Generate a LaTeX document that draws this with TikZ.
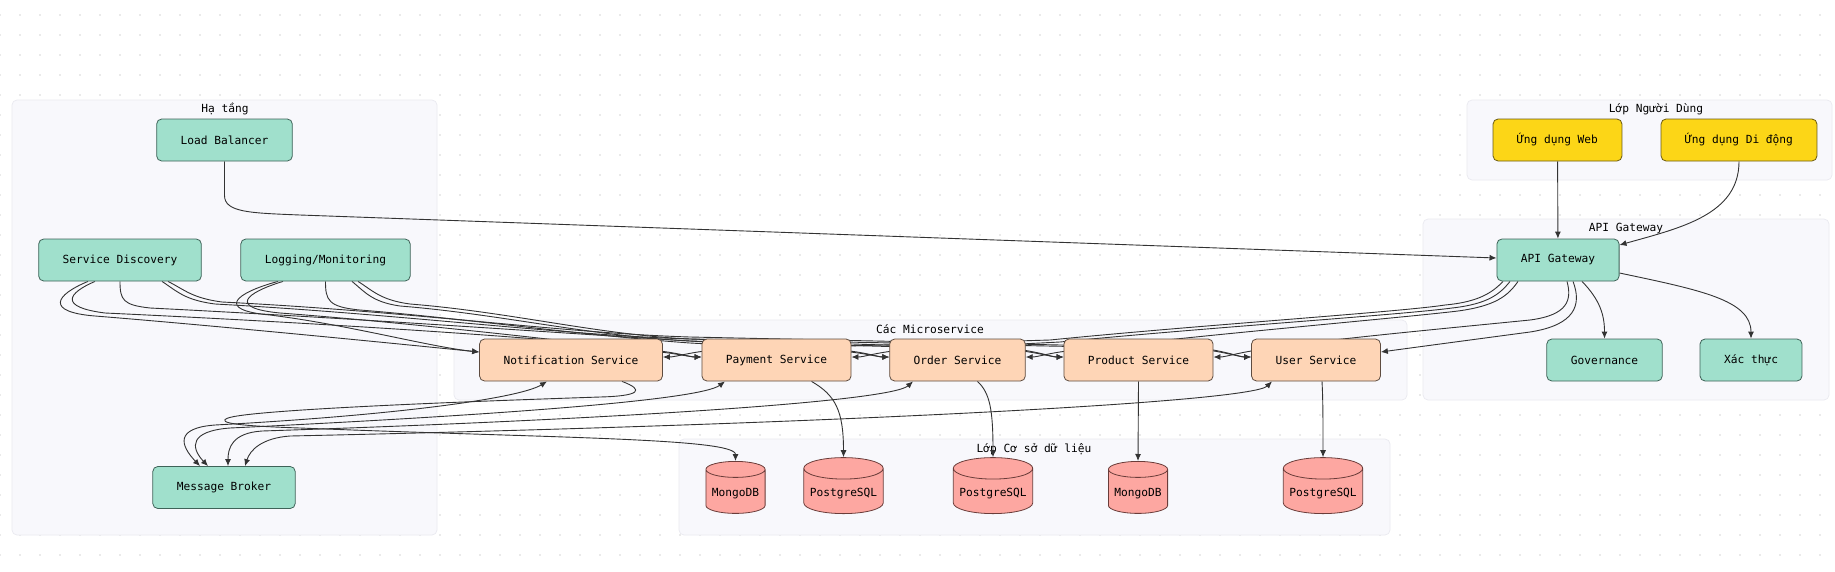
\documentclass[tikz,border=0pt]{standalone}
\usepackage{fontspec}
\setmonofont{DejaVu Sans Mono}
\newfontfamily\vnsans{DejaVu Sans}
\usepackage{tikz}
\usetikzlibrary{arrows.meta,backgrounds,shapes.geometric}
\pgfdeclarelayer{edges}
\pgfsetlayers{background,edges,main}

\definecolor{tealfill}{HTML}{A0E0CC}
\definecolor{tealline}{HTML}{3E6358}
\definecolor{peachfill}{HTML}{FED5B6}
\definecolor{peachline}{HTML}{5E4C40}
\definecolor{yellowfill}{HTML}{FCD617}
\definecolor{yellowline}{HTML}{6B5A12}
\definecolor{pinkfill}{HTML}{FDA7A1}
\definecolor{pinkline}{HTML}{6A3C39}
\definecolor{clusterfill}{HTML}{F8F8FC}
\definecolor{clusterline}{HTML}{EAEAF0}
\definecolor{edgecol}{HTML}{333333}
\definecolor{dotcol}{HTML}{D6D6D6}

\begin{document}
\begin{tikzpicture}[x=1pt,y=1pt,
  nodebase/.style={rounded corners=5pt, line width=0.8pt, minimum height=42pt,
    inner xsep=24pt, font=\ttfamily\fontsize{11.2}{13}\selectfont, text=black},
  infra/.style={nodebase, fill=tealfill, draw=tealline},
  svc/.style={nodebase, fill=peachfill, draw=peachline},
  client/.style={nodebase, fill=yellowfill, draw=yellowline},
  db/.style={cylinder, shape border rotate=90, aspect=0.27, draw=pinkline,
    fill=pinkfill, line width=0.8pt, inner xsep=6pt, minimum height=52pt,
    font=\ttfamily\fontsize{11.2}{13}\selectfont},
  clusterbox/.style={fill=clusterfill, draw=clusterline, line width=0.7pt, rounded corners=5pt},
  clustertitle/.style={font=\ttfamily\fontsize{11.2}{13}\selectfont, text=black},
  link/.style={draw=edgecol, line width=0.9pt, -{Latex[length=7pt,width=6pt]}},
  twoway/.style={link, {Latex[length=7pt,width=6pt]}-{Latex[length=7pt,width=6pt]}}]

\useasboundingbox (0,0) rectangle (1835,-571);

% background, dots and groups
\begin{scope}[on background layer]
  \fill[white] (0,0) rectangle (1835,-571);
  \foreach \i in {0,...,91} {
    \foreach \j in {0,...,27} {
      \fill[dotcol] (20*\i,-15-20*\j) circle (0.9);
    }
  }
  \draw[clusterbox] (12,-100) rectangle (437,-535);
  \draw[clusterbox] (454,-320) rectangle (1407,-400);
  \draw[clusterbox] (679,-439) rectangle (1390,-535);
  \draw[clusterbox] (1467,-100) rectangle (1832,-180);
  \draw[clusterbox] (1423,-219) rectangle (1829,-400);
  \draw (225,-109) node[clustertitle] (hatang) {Hạ t{\vnsans ầ}ng};
  \draw (930,-329) node[clustertitle] (micro) {Các Microservice};
  \draw (1034,-449) node[clustertitle] (csdl) {Lớp Cơ s{\vnsans ở} dữ liệu};
  \draw (1656,-109) node[clustertitle] (nguoidung) {Lớp Người Dùng};
  \draw (1626,-229) node[clustertitle] (apigroup) {API Gateway};
\end{scope}

% nodes
\draw (224.5,-140) node[infra] (loadbal) {Load Balancer};
\draw (120,-260) node[infra] (discovery) {Service Discovery};
\draw (325.5,-260) node[infra] (logging) {Logging/Monitoring};
\draw (224,-487.5) node[infra] (broker) {Message Broker};

\draw (571,-360) node[svc] (notif) {Notification Service};
\draw (776.5,-360) node[svc] (payment) {Payment Service};
\draw (957.5,-360) node[svc] (order) {Order Service};
\draw (1138.5,-360) node[svc] (product) {Product Service};
\draw (1316,-360) node[svc] (user) {User Service};

\draw (1557.5,-140) node[client] (webapp) {Ứng dụng Web};
\draw (1739,-140) node[client] (mobileapp) {Ứng dụng Di động};
\draw (1558,-260) node[infra] (gateway) {API Gateway};
\draw (1604.5,-360) node[infra] (governance) {Governance};
\draw (1751,-360) node[infra] (auth) {Xác thực};

\draw (735.5,-494) node[db] (mongoA) {MongoDB};
\draw (843.5,-494) node[db, minimum height=56pt] (pgA) {PostgreSQL};
\draw (993,-494) node[db, minimum height=56pt] (pgB) {PostgreSQL};
\draw (1138,-494) node[db] (mongoB) {MongoDB};
\draw (1323,-494) node[db, minimum height=56pt] (pgC) {PostgreSQL};

\begin{pgfonlayer}{edges}
% clients and load balancer
\draw[link] (webapp) -- (gateway);
\draw[link] (mobileapp.south) .. controls (1739,-215) and (1680,-228) .. ([yshift=15pt]gateway.east);
\draw[link] (loadbal.south) -- ++(0,-34) .. controls +(0,-17) and +(-50,2) .. (300,-215)
  -- ([yshift=2pt]gateway.west);
\draw[link] ([xshift=24pt]gateway.south) .. controls (1600,-300) and (1604.5,-315) .. (governance.north);
\draw[link] ([yshift=-13pt]gateway.east) .. controls (1700,-290) and (1751,-300) .. (auth.north);

% gateway to services
\draw[link] ([xshift=-55pt]gateway.south) .. controls (1492,-293) and (1478,-302) .. (1445,-305)
  .. controls (1400,-312) and (1200,-325) .. (1050,-340) -- (715,-350)
  .. controls (690,-352) and (676,-357) .. ([yshift=3pt]notif.east);
\draw[link] ([xshift=-48pt]gateway.south) .. controls (1500,-294) and (1488,-304) .. (1452,-308)
  .. controls (1400,-315) and (1200,-328) .. (1060,-342) -- (903,-350)
  .. controls (878,-352) and (864,-357) .. ([yshift=3pt]payment.east);
\draw[link] ([xshift=-40pt]gateway.south) .. controls (1508,-296) and (1495,-306) .. (1458,-311)
  .. controls (1400,-318) and (1200,-335) .. (1077,-350)
  .. controls (1052,-352) and (1038,-357) .. ([yshift=3pt]order.east);
\draw[link] ([xshift=9pt]gateway.south) .. controls (1572,-300) and (1568,-315) .. (1530,-320)
  .. controls (1450,-328) and (1320,-340) .. (1265,-349)
  .. controls (1240,-352) and (1226,-357) .. ([yshift=3pt]product.east);
\draw[link] ([xshift=15pt]gateway.south) .. controls (1582,-305) and (1575,-325) .. (1530,-332)
  .. controls (1470,-340) and (1410,-348) .. ([yshift=8pt]user.east);

% service discovery to services
\draw[link] ([xshift=-32pt]discovery.south) .. controls (55,-295) and (45,-312) .. (95,-316)
  .. controls (220,-326) and (420,-346) .. ([yshift=8pt]notif.west);
\draw[link] ([xshift=-25pt]discovery.south) .. controls (68,-293) and (58,-307) .. (105,-313)
  .. controls (300,-322) and (560,-338) .. (650,-350)
  .. controls (675,-352) and (690,-357) .. ([yshift=3pt]payment.west);
\draw[link] (discovery.south) .. controls (120,-300) and (123,-305) .. (150,-308)
  .. controls (350,-318) and (560,-333) .. (690,-341) -- (840,-350)
  .. controls (865,-352) and (878,-357) .. ([yshift=3pt]order.west);
\draw[link] ([xshift=42pt]discovery.south) .. controls (178,-292) and (185,-300) .. (215,-304)
  .. controls (400,-314) and (560,-335) .. (690,-339) -- (1015,-349)
  .. controls (1040,-352) and (1052,-357) .. ([yshift=3pt]product.west);
\draw[link] ([xshift=48pt]discovery.south) .. controls (185,-290) and (192,-298) .. (222,-302)
  .. controls (420,-312) and (560,-333) .. (690,-337) -- (1200,-348)
  .. controls (1225,-351) and (1240,-357) .. ([yshift=3pt]user.west);

% logging to services
\draw[link] ([xshift=-47.5pt]logging.south) .. controls (235,-293) and (215,-310) .. (270,-315)
  .. controls (350,-325) and (430,-347) .. ([yshift=8pt]notif.west);
\draw[link] ([xshift=-42.5pt]logging.south) .. controls (245,-293) and (228,-308) .. (280,-313)
  .. controls (400,-322) and (560,-340) .. (650,-351)
  .. controls (675,-353) and (690,-357) .. ([yshift=3pt]payment.west);
\draw[link] (logging.south) .. controls (325.5,-300) and (328,-307) .. (360,-310)
  .. controls (460,-318) and (580,-335) .. (690,-343) -- (840,-351)
  .. controls (865,-353) and (878,-357) .. ([yshift=3pt]order.west);
\draw[link] ([xshift=26.5pt]logging.south) .. controls (365,-292) and (372,-302) .. (400,-306)
  .. controls (500,-314) and (590,-336) .. (690,-341) -- (1015,-350)
  .. controls (1040,-353) and (1052,-357) .. ([yshift=3pt]product.west);
\draw[link] ([xshift=32.5pt]logging.south) .. controls (372,-290) and (380,-300) .. (410,-304)
  .. controls (510,-312) and (600,-335) .. (690,-339) -- (1200,-349)
  .. controls (1225,-352) and (1240,-357) .. ([yshift=3pt]user.west);

% message broker
\draw[twoway] ([xshift=-24pt]notif.south) .. controls (520,-398) and (400,-415) .. (215,-425)
  .. controls (175,-428) and (180,-445) .. ([xshift=-24pt]broker.north);
\draw[twoway] ([xshift=-51.5pt]payment.south) .. controls (700,-400) and (500,-415) .. (230,-428)
  .. controls (190,-431) and (190,-447) .. ([xshift=-16pt]broker.north);
\draw[twoway] ([xshift=-44.5pt]order.south) .. controls (890,-402) and (600,-420) .. (262,-431)
  .. controls (232,-433) and (228,-448) .. ([xshift=4pt]broker.north);
\draw[twoway] ([xshift=-44pt]user.south) .. controls (1250,-403) and (800,-425) .. (290,-436)
  .. controls (262,-438) and (250,-450) .. ([xshift=21pt]broker.north);

% databases
\draw[link] ([xshift=51pt]notif.south) .. controls (645,-390) and (640,-396) .. (600,-397)
  .. controls (450,-402) and (250,-410) .. (228,-418) .. controls (215,-423) and (240,-426) .. (300,-428)
  .. controls (550,-438) and (735.5,-438) .. (mongoA.north);
\draw[link] ([xshift=35pt]payment.south) .. controls (835,-395) and (843.5,-410) .. (pgA.north);
\draw[link] ([xshift=20pt]order.south) .. controls (990,-393) and (993,-410) .. (pgB.north);
\draw[link] (product.south) -- (mongoB.north);
\draw[link] ([xshift=6pt]user.south) .. controls (1323,-400) and (1323,-420) .. (pgC.north);
\end{pgfonlayer}
\end{tikzpicture}
\end{document}
